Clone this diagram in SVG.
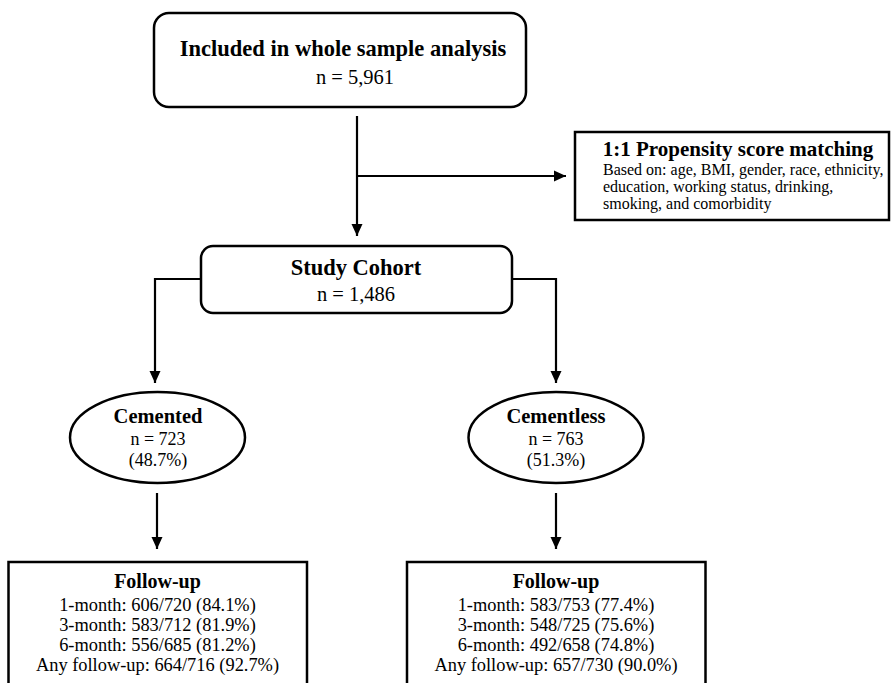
<svg xmlns="http://www.w3.org/2000/svg" width="891" height="683" viewBox="0 0 891 683">
<style>
.box{fill:#fff;stroke:#000;stroke-width:2.5}
.con{fill:none;stroke:#000;stroke-width:2.2}
text{font-family:"Liberation Serif","Times New Roman",serif;fill:#000}
.b{font-weight:bold}
.c{text-anchor:middle}
</style>
<defs>
<marker id="ah" markerUnits="userSpaceOnUse" markerWidth="12" markerHeight="12" viewBox="0 0 12 12" refX="12" refY="6" orient="auto">
<path d="M0,0.5 L12,6 L0,11.5 z" fill="#000"/>
</marker>
</defs>
<rect width="891" height="683" fill="#fff"/>
<g id="connectors">
<path class="con" d="M357,116 V236" marker-end="url(#ah)"/>
<path class="con" d="M357,176 H566" marker-end="url(#ah)"/>
<path class="con" d="M201,279 H155 V383" marker-end="url(#ah)"/>
<path class="con" d="M512,279 H556 V383" marker-end="url(#ah)"/>
<path class="con" d="M157,493 V549" marker-end="url(#ah)"/>
<path class="con" d="M556,493 V549" marker-end="url(#ah)"/>
</g>
<g id="whole-sample">
<rect class="box" x="154" y="13" width="372" height="94" rx="15"/>
<text class="b c" x="343" y="56" font-size="22.5">Included in whole sample analysis</text>
<text class="c" x="355" y="84" font-size="20.5">n = 5,961</text>
</g>
<g id="propensity">
<rect class="box" x="575" y="132" width="314" height="88"/>
<text class="b c" x="738" y="156" font-size="21">1:1 Propensity score matching</text>
<text x="603" y="175" font-size="16">Based on: age, BMI, gender, race, ethnicity,</text>
<text x="603" y="192" font-size="16">education, working status, drinking,</text>
<text x="603" y="209" font-size="16">smoking, and comorbidity</text>
</g>
<g id="study-cohort">
<rect class="box" x="201" y="246" width="311" height="67" rx="12"/>
<text class="b c" x="356" y="275" font-size="22.5">Study Cohort</text>
<text class="c" x="356" y="301" font-size="20.5">n = 1,486</text>
</g>
<g id="cemented">
<ellipse class="box" cx="157.5" cy="437.5" rx="87.5" ry="45.5"/>
<text class="b c" x="158" y="423" font-size="20.5">Cemented</text>
<text class="c" x="158" y="445" font-size="18">n = 723</text>
<text class="c" x="158" y="466" font-size="18">(48.7%)</text>
</g>
<g id="cementless">
<ellipse class="box" cx="556" cy="437.5" rx="87.5" ry="45.5"/>
<text class="b c" x="556" y="423" font-size="20.5">Cementless</text>
<text class="c" x="556" y="445" font-size="18">n = 763</text>
<text class="c" x="556" y="466" font-size="18">(51.3%)</text>
</g>
<g id="followup-cemented">
<rect class="box" x="8.5" y="562" width="298.5" height="140"/>
<text class="b c" x="157.5" y="588" font-size="20">Follow-up</text>
<text class="c" x="157.5" y="611" font-size="18.4">1-month: 606/720 (84.1%)</text>
<text class="c" x="157.5" y="631" font-size="18.4">3-month: 583/712 (81.9%)</text>
<text class="c" x="157.5" y="651" font-size="18.4">6-month: 556/685 (81.2%)</text>
<text class="c" x="157.5" y="671" font-size="18.4">Any follow-up: 664/716 (92.7%)</text>
</g>
<g id="followup-cementless">
<rect class="box" x="407" y="562" width="298.5" height="140"/>
<text class="b c" x="556" y="588" font-size="20">Follow-up</text>
<text class="c" x="556" y="611" font-size="18.4">1-month: 583/753 (77.4%)</text>
<text class="c" x="556" y="631" font-size="18.4">3-month: 548/725 (75.6%)</text>
<text class="c" x="556" y="651" font-size="18.4">6-month: 492/658 (74.8%)</text>
<text class="c" x="556" y="671" font-size="18.4">Any follow-up: 657/730 (90.0%)</text>
</g>
</svg>
